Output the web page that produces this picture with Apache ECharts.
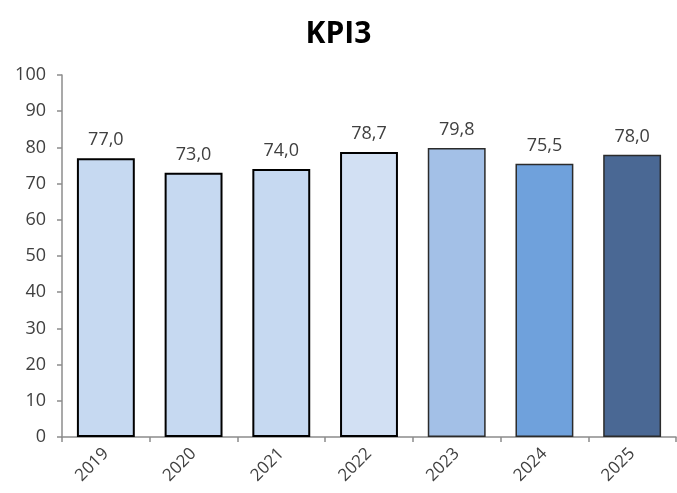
<!DOCTYPE html>
<html>
<head>
<meta charset="utf-8">
<script src="https://cdn.jsdelivr.net/npm/echarts@6/dist/echarts.min.js"></script>
<style>
  html, body { margin: 0; padding: 0; background: #fff; }
  #chart { width: 677px; height: 493px; }
</style>
</head>
<body>
<div id="chart"></div>
<script>
// 数据
var years = ['2019', '2020', '2021', '2022', '2023', '2024', '2025'];
var kpiValues = [77.0, 73.0, 74.0, 78.7, 79.8, 75.5, 78.0];
var barColors = ['#c6d9f1', '#c6d9f1', '#c6d9f1', '#d2e0f3', '#a3c0e7', '#6fa1dc', '#4a6894'];
var yTicks = [0, 10, 20, 30, 40, 50, 60, 70, 80, 90, 100];

var chart = echarts.init(document.getElementById('chart'));
var font = '"Open Sans", "Liberation Sans", sans-serif';

var option = {
  animation: false,
  title: {
    text: 'KPI3',
    left: 'center',
    top: 14,
    textStyle: { fontFamily: font, fontSize: 30, fontWeight: 'bold', color: '#000' }
  },
  grid: { left: 62, right: 1, top: 75, bottom: 56 },
  xAxis: {
    type: 'category',
    data: years,
    axisLine: { lineStyle: { color: '#8c8c8c', width: 1.5 } },
    axisTick: { show: true, length: 5, lineStyle: { color: '#8c8c8c', width: 1.5 } },
    axisLabel: { rotate: 45, fontFamily: font, fontSize: 17, color: '#404040', margin: 14 }
  },
  yAxis: {
    type: 'value',
    min: yTicks[0],
    max: yTicks[yTicks.length - 1],
    interval: 10,
    splitLine: { show: false },
    axisLine: { show: true, lineStyle: { color: '#8c8c8c', width: 1.5 } },
    axisTick: { show: true, length: 5, lineStyle: { color: '#8c8c8c', width: 1.5 } },
    axisLabel: { fontFamily: font, fontSize: 18, color: '#404040', margin: 16 }
  },
  series: [{
    type: 'bar',
    barCategoryGap: '34%',
    data: kpiValues.map(function (v, i) {
      return {
        value: v,
        itemStyle: {
          color: barColors[i],
          borderColor: i < 4 ? '#000' : '#2b2b2b',
          borderWidth: i < 4 ? 2 : 1.5
        }
      };
    }),
    label: {
      show: true,
      position: 'top',
      distance: 9,
      fontFamily: font,
      fontSize: 18,
      color: '#404040',
      formatter: function (p) { return p.value.toFixed(1).replace('.', ','); }
    }
  }]
};

chart.setOption(option);
</script>
</body>
</html>
